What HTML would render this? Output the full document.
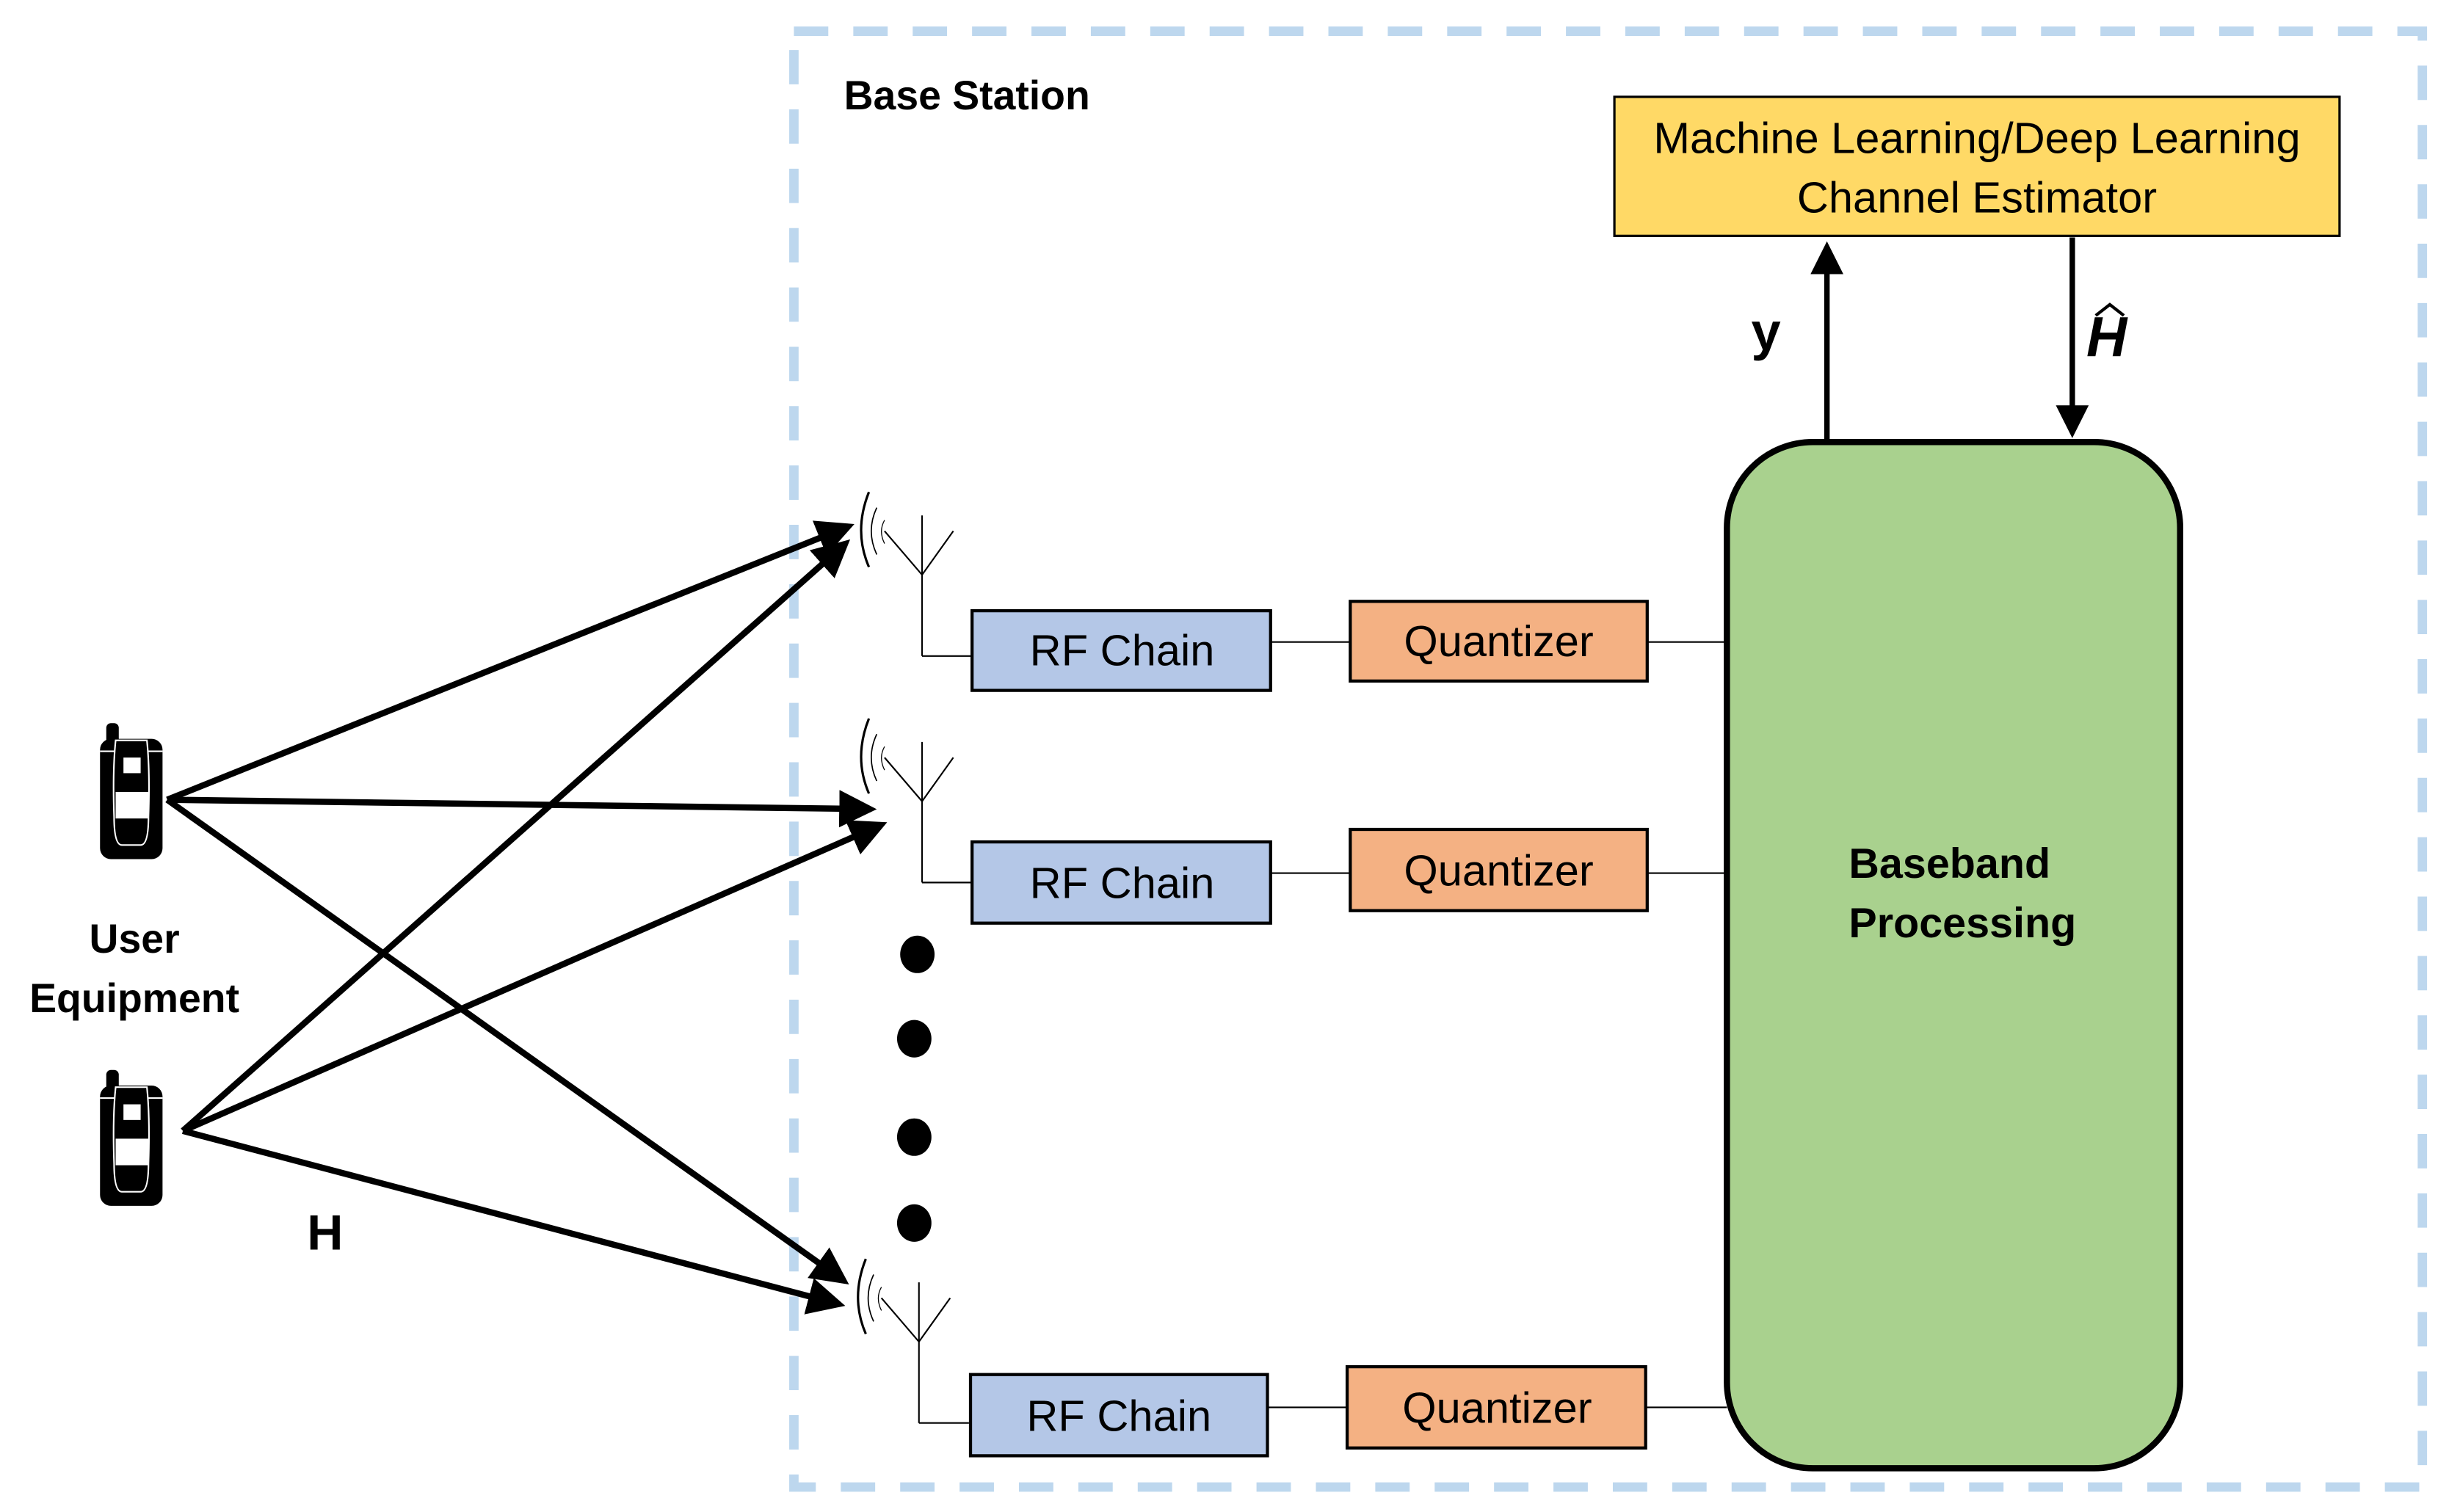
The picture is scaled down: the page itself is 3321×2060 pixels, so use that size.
<!DOCTYPE html>
<html><head><meta charset="utf-8"><style>
html,body{margin:0;padding:0;background:#fff;width:3321px;height:2060px;overflow:hidden}
svg{display:block}
text{font-family:"Liberation Sans",sans-serif}
</style></head><body>
<svg width="3321" height="2060" viewBox="0 0 1560 968" preserveAspectRatio="none" xmlns="http://www.w3.org/2000/svg">
<defs>
<marker id="ah" markerWidth="6" markerHeight="6" refX="5" refY="3" orient="auto" markerUnits="strokeWidth"><path d="M0,0 L6,3 L0,6 Z" fill="#000"/></marker>
<g id="phone">
<rect x="4" y="0" width="8" height="14" rx="3" fill="#000"/>
<rect x="0" y="10" width="40" height="77" rx="7" fill="#000"/>
<path d="M10,11 L30,11 Q32,30 31,60 Q31,78 26,78 L14,78 Q9,78 9,60 Q8,30 10,11 Z" fill="none" stroke="#fff" stroke-width="1"/>
<line x1="0" y1="18" x2="9" y2="18" stroke="#fff" stroke-width="1"/>
<line x1="31" y1="18" x2="40" y2="18" stroke="#fff" stroke-width="1"/>
<rect x="15" y="22" width="11" height="10" fill="#fff"/>
<rect x="10" y="44" width="21" height="17" fill="#fff"/>
</g>
<g id="ant" fill="none" stroke="#000" stroke-width="1">
<line x1="24" y1="0" x2="24" y2="90"/>
<path d="M0,10 L24,38 L44,10"/>
<line x1="24" y1="90" x2="56" y2="90"/>
<path d="M-10,-15 Q-20,10 -10,33" stroke-width="1.5"/>
<path d="M-5,-5 Q-12,10 -5,25" stroke-width="0.8"/>
<path d="M0,3 Q-4,10 0,18" stroke-width="0.6"/>
</g>
</defs>
<rect x="508" y="20" width="1042" height="932" fill="none" stroke="#BDD7EE" stroke-width="6" stroke-dasharray="22,16"/>
<text x="540" y="70" font-size="26" font-weight="bold">Base Station</text>

<rect x="1033" y="62" width="464" height="89" fill="#FFD966" stroke="#000" stroke-width="1.5"/>
<text x="1265" y="98" font-size="28" text-anchor="middle">Machine Learning/Deep Learning</text>
<text x="1265" y="136" font-size="28" text-anchor="middle">Channel Estimator</text>

<line x1="1169" y1="283" x2="1169" y2="158" stroke="#000" stroke-width="3.5" marker-end="url(#ah)"/>
<line x1="1326" y1="152" x2="1326" y2="277" stroke="#000" stroke-width="3.5" marker-end="url(#ah)"/>
<text x="1130" y="224" font-size="34" font-weight="bold" text-anchor="middle">y</text>
<text x="1348" y="228" font-size="36" font-weight="bold" font-style="italic" text-anchor="middle" font-family="Liberation Serif,serif">H</text>
<path d="M1341,202 L1350,195 L1359,202" fill="none" stroke="#000" stroke-width="2"/>

<rect x="1105" y="283" width="290" height="657" rx="55" fill="#A9D18E" stroke="#000" stroke-width="4"/>
<text x="1183" y="562" font-size="27" font-weight="bold">Baseband</text>
<text x="1183" y="600" font-size="27" font-weight="bold">Processing</text>

<use href="#ant" x="566" y="330"/>
<use href="#ant" x="566" y="475"/>
<use href="#ant" x="564" y="821"/>

<g stroke="#000" stroke-width="1">
<line x1="813" y1="411" x2="864" y2="411"/><line x1="1054" y1="411" x2="1105" y2="411"/>
<line x1="813" y1="559" x2="864" y2="559"/><line x1="1054" y1="559" x2="1105" y2="559"/>
<line x1="811" y1="901" x2="862" y2="901"/><line x1="1053" y1="901" x2="1105" y2="901"/>
</g>
<g stroke="#000" stroke-width="2" font-size="28">
<rect x="622" y="391" width="191" height="51" fill="#B4C7E7"/>
<rect x="622" y="539" width="191" height="52" fill="#B4C7E7"/>
<rect x="621" y="880" width="190" height="52" fill="#B4C7E7"/>
<rect x="864" y="385" width="190" height="51" fill="#F4B183"/>
<rect x="864" y="531" width="190" height="52" fill="#F4B183"/>
<rect x="862" y="875" width="191" height="52" fill="#F4B183"/>
</g>
<g font-size="28" text-anchor="middle">
<text x="718" y="426">RF Chain</text>
<text x="718" y="575">RF Chain</text>
<text x="716" y="916">RF Chain</text>
<text x="959" y="420">Quantizer</text>
<text x="959" y="567">Quantizer</text>
<text x="958" y="911">Quantizer</text>
</g>

<g fill="#000">
<ellipse cx="587" cy="611" rx="11" ry="12"/>
<ellipse cx="585" cy="665" rx="11" ry="12"/>
<ellipse cx="585" cy="728" rx="11" ry="12"/>
<ellipse cx="585" cy="783" rx="11" ry="12"/>
</g>

<use href="#phone" x="64" y="463"/>
<use href="#phone" x="64" y="685"/>

<g stroke="#000" stroke-width="4" marker-end="url(#ah)">
<line x1="107" y1="512" x2="543" y2="337"/>
<line x1="107" y1="512" x2="557" y2="518"/>
<line x1="107" y1="512" x2="540" y2="820"/>
<line x1="117" y1="724" x2="541" y2="348"/>
<line x1="117" y1="724" x2="564" y2="528"/>
<line x1="117" y1="724" x2="537" y2="835"/>
</g>

<text x="86" y="610" font-size="26" font-weight="bold" text-anchor="middle">User</text>
<text x="86" y="648" font-size="26" font-weight="bold" text-anchor="middle">Equipment</text>
<text x="208" y="800" font-size="32" font-weight="bold" text-anchor="middle">H</text>
</svg>
</body></html>
